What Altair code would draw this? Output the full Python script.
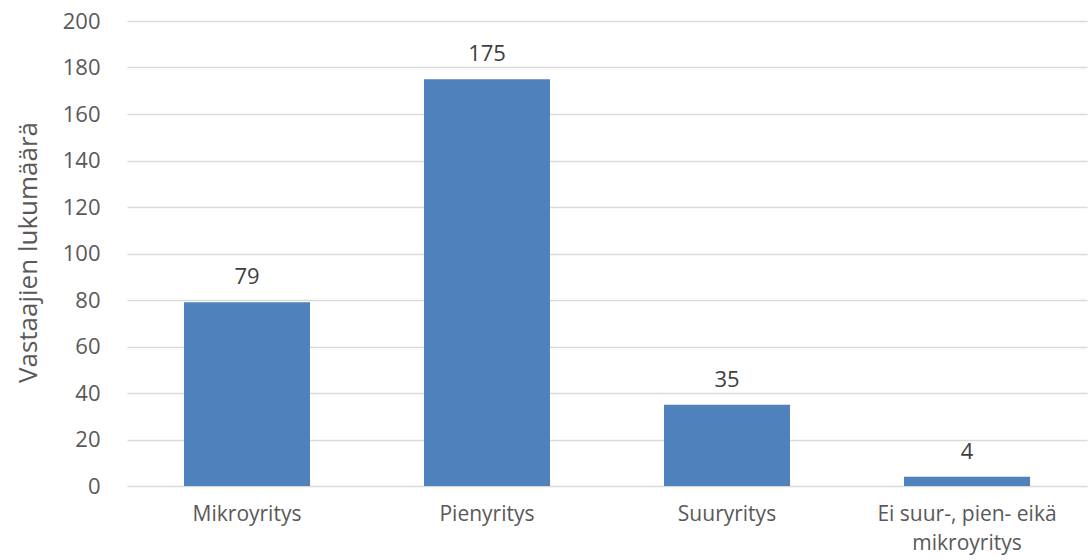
import altair as alt
import pandas as pd

categories = ["Mikroyritys", "Pienyritys", "Suuryritys", "Ei suur-, pien- eikä mikroyritys"]
counts = [79, 175, 35, 4]

df = pd.DataFrame({"kategoria": categories, "lukumaara": counts})

FONT = "Open Sans"
GRAY = "#595959"

x_enc = alt.X(
    "kategoria:N",
    sort=categories,
    title=None,
    scale=alt.Scale(paddingInner=0.475, paddingOuter=0.2375),
    axis=alt.Axis(
        labelAngle=0,
        labelFont=FONT,
        labelFontSize=21,
        labelColor=GRAY,
        labelPadding=17,
        labelLineHeight=29,
        labelLimit=400,
        labelExpr="datum.value == 'Ei suur-, pien- eikä mikroyritys' ? ['Ei suur-, pien- eikä', 'mikroyritys'] : datum.value",
        ticks=False,
        domain=False,
        grid=False,
    ),
)

y_enc = alt.Y(
    "lukumaara:Q",
    title="Vastaajien lukumäärä",
    scale=alt.Scale(domain=[0, 200], nice=False),
    axis=alt.Axis(
        values=list(range(0, 201, 20)),
        labelFont=FONT,
        labelFontSize=22,
        labelColor=GRAY,
        labelPadding=27,
        ticks=False,
        domain=False,
        gridColor="#D9D9D9",
        gridWidth=1.3,
        titleFont=FONT,
        titleFontSize=26,
        titleFontWeight="normal",
        titleColor=GRAY,
        titleX=-99,
        titleY=231,
        titleAngle=-90,
        titleAlign="center",
        titleBaseline="middle",
    ),
)

base = alt.Chart(df).encode(x=x_enc, y=y_enc)

bars = base.mark_bar(color="#4F81BD")

labels = base.mark_text(
    baseline="alphabetic",
    dy=-18,
    font=FONT,
    fontSize=22,
    color="#404040",
).encode(text="lukumaara:Q")

chart = (
    alt.layer(bars, labels)
    .properties(
        width=960,
        height=465,
        autosize=alt.AutoSizeParams(type="none"),
        padding={"left": 127, "top": 21, "right": 2, "bottom": 74},
        background="white",
    )
    .configure_view(stroke=None)
)

chart.save("out.html", embed_options={"renderer": "svg", "actions": False})
